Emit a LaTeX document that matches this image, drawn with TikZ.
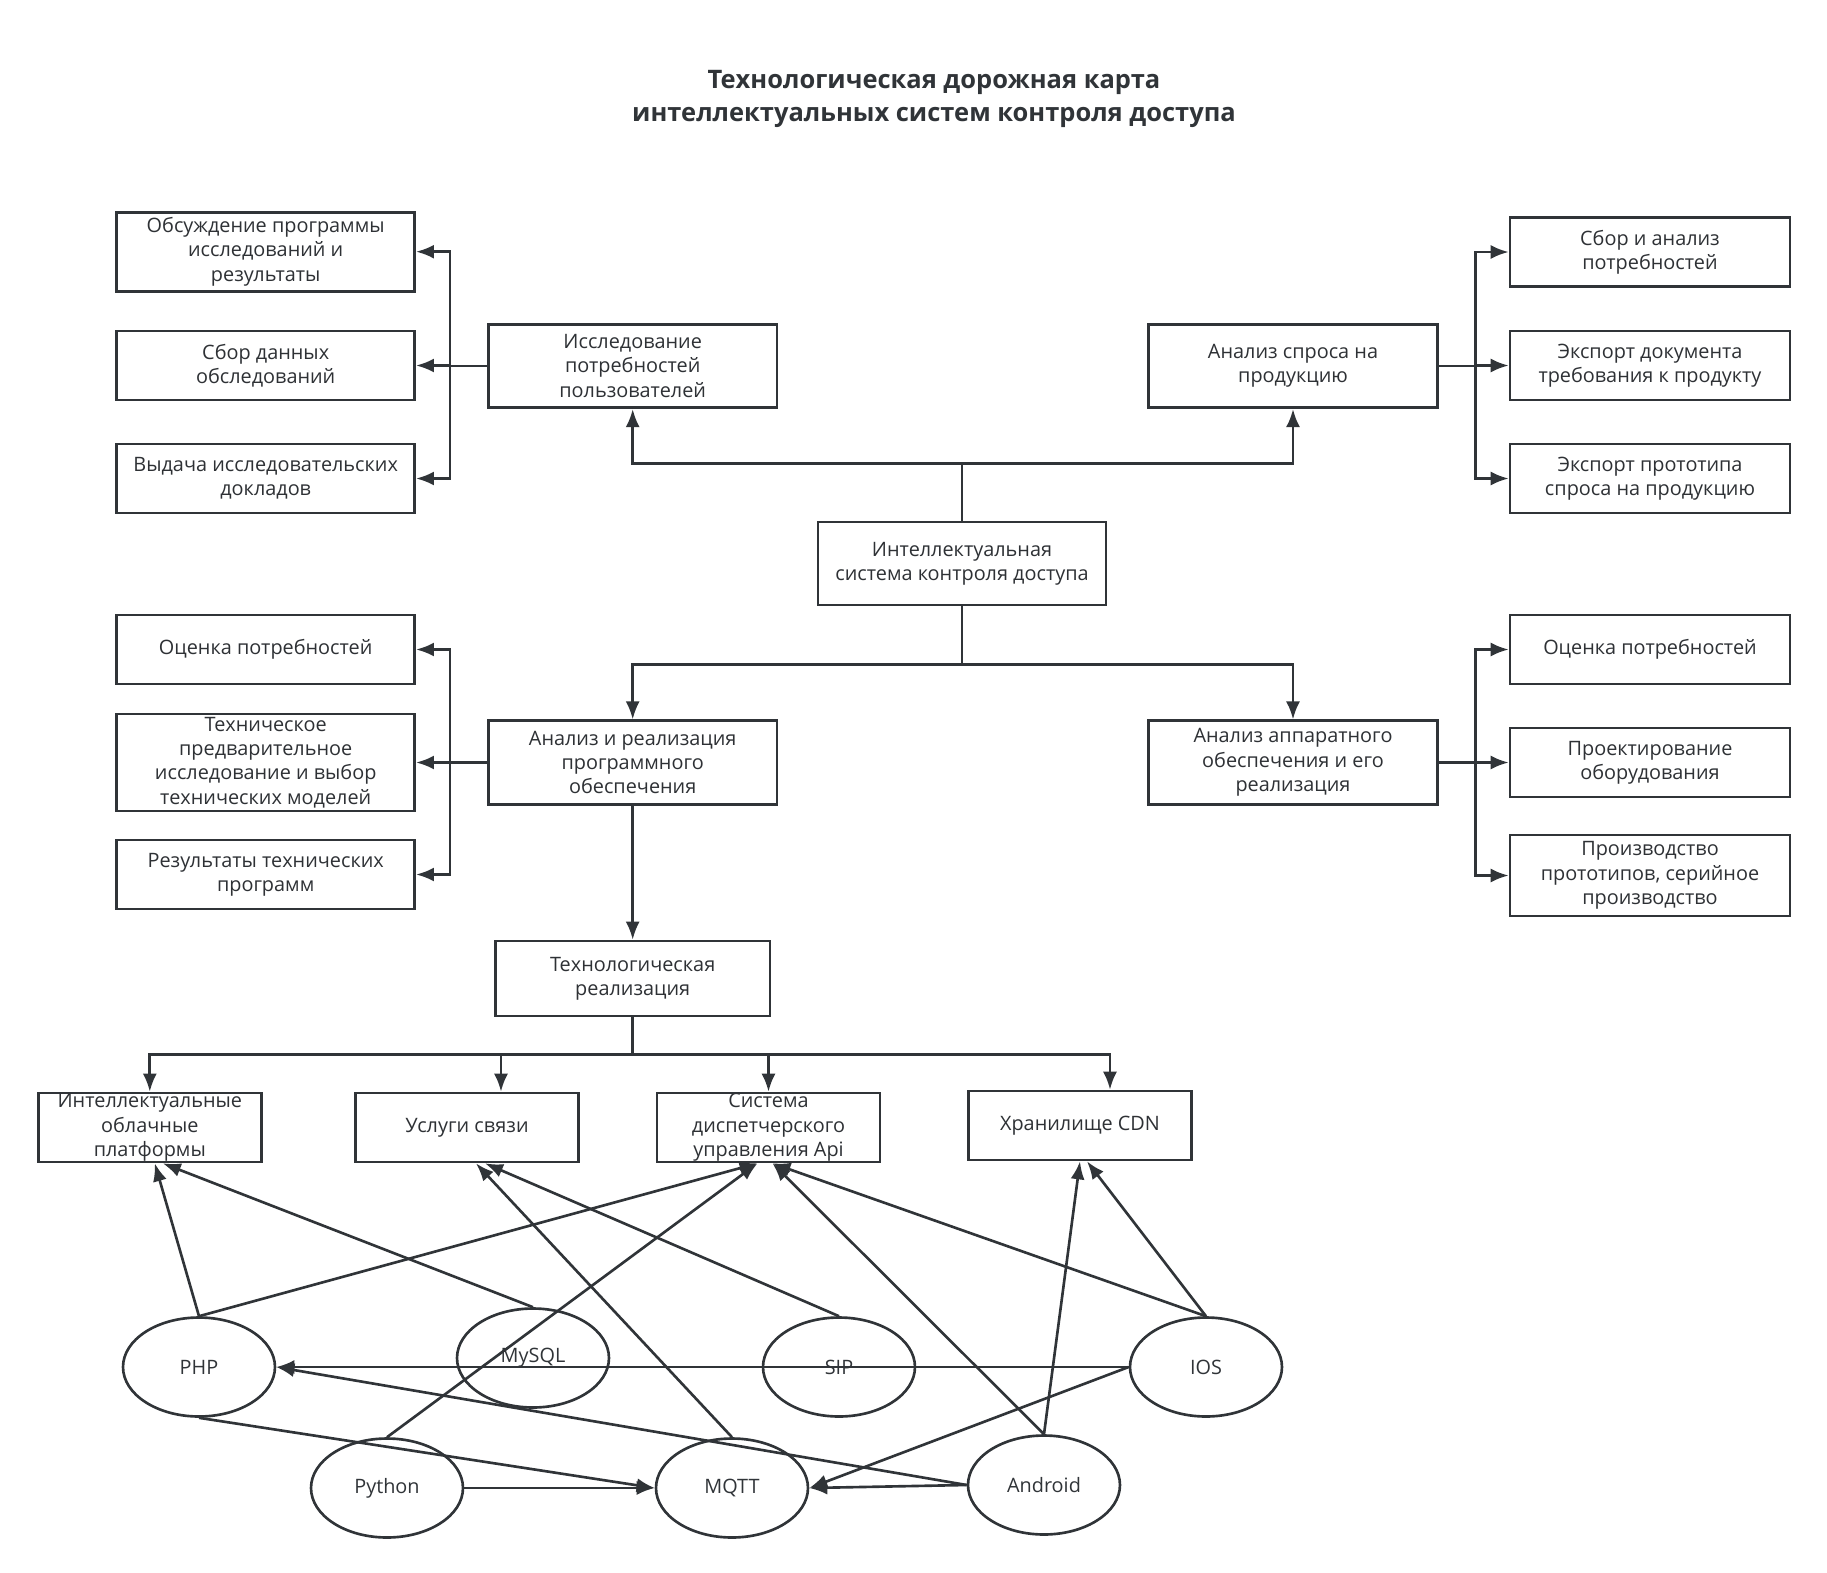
\documentclass[tikz,border=0pt]{standalone}
\usepackage{fontspec}
\setmainfont{Open Sans}
\usepackage{tikz}
\usetikzlibrary{
  shapes.geometric, arrows.meta, positioning, calc
}
\definecolor{ink}{HTML}{303438}
\tikzset{
  mapbox/.style={
    draw=ink, line width=1.5pt, align=center, text=ink!95!black, inner sep=0pt,
    font=\fontsize{11.3}{13.9}\selectfont, fill=white
  },
  branchbox/.style={
    mapbox, minimum width=5.78cm, minimum height=1.67cm
  },
  leafbox/.style={
    mapbox, minimum width=5.96cm, minimum height=1.38cm
  },
  rleafbox/.style={
    mapbox, minimum width=5.6cm, minimum height=1.38cm
  },
  servicebox/.style={
    mapbox, minimum width=4.46cm, minimum height=1.38cm
  },
  toolnode/.style={
    ellipse, draw=ink, line width=1.5pt, text=ink, inner sep=0pt,
    minimum width=3.04cm, minimum height=1.98cm,
    font=\fontsize{11.3}{13.9}\selectfont
  },
  maparrow/.style={
    -{Latex[length=3.6mm, width=2.8mm]}, line width=1.5pt, draw=ink
  },
  maptitle/.style={
    align=center, text=ink, font=\bfseries\fontsize{14.5}{18.7}\selectfont
  },
}

\begin{document}
\begin{tikzpicture}[x=0.02cm, y=-0.02cm]
  \useasboundingbox (0,0) rectangle (1827,1573);

  % --- Title ---
  \node[maptitle] (title) at (934, 99)
    {Технологическая дорожная карта\\интеллектуальных систем контроля доступа};

  % --- Upper level: research and demand ---
  \node[leafbox, minimum height=1.58cm] (obs) at (265.7, 251.7) {Обсуждение программы\\исследований и\\результаты};
  \node[leafbox] (sbor) at (265.7, 365.5) {Сбор данных\\обследований};
  \node[leafbox] (vyd) at (265.7, 478.5) {Выдача исследовательских\\докладов};

  \node[branchbox] (issl) at (632.7, 366) {Исследование\\потребностей\\пользователей};
  \node[branchbox] (spros) at (1293, 366) {Анализ спроса на\\продукцию};

  \node[rleafbox] (rsbor) at (1650, 252) {Сбор и анализ\\потребностей};
  \node[rleafbox] (rdoc) at (1650, 365.5) {Экспорт документа\\требования к продукту};
  \node[rleafbox] (rproto) at (1650, 478.5) {Экспорт прототипа\\спроса на продукцию};

  % --- Core ---
  \node[mapbox, minimum width=5.76cm, minimum height=1.66cm] (core) at (962, 563.5)
    {Интеллектуальная\\система контроля доступа};

  % --- Middle level: software and hardware ---
  \node[leafbox] (lneed) at (265.7, 649.5) {Оценка потребностей};
  \node[leafbox, minimum height=1.94cm] (ltech) at (265.7, 762.5)
    {Техническое\\предварительное\\исследование и выбор\\технических моделей};
  \node[leafbox] (lres) at (265.7, 874.5) {Результаты технических\\программ};

  \node[branchbox] (soft) at (632.7, 762.5) {Анализ и реализация\\программного\\обеспечения};
  \node[branchbox] (hard) at (1293, 762.5) {Анализ аппаратного\\обеспечения и его\\реализация};

  \node[rleafbox] (rneed) at (1650, 649.5) {Оценка потребностей};
  \node[rleafbox] (rdesign) at (1650, 762.5) {Проектирование\\оборудования};
  \node[rleafbox, minimum height=1.62cm] (rprod) at (1650, 875.5)
    {Производство\\прототипов, серийное\\производство};

  % --- Technology level ---
  \node[mapbox, minimum width=5.5cm, minimum height=1.5cm] (tech) at (632.7, 978.5)
    {Технологическая\\реализация};

  \node[servicebox] (cloud) at (149.8, 1127.5) {Интеллектуальные\\облачные\\платформы};
  \node[servicebox] (svyaz) at (467, 1127.5) {Услуги связи};
  \node[servicebox] (api) at (768.5, 1127.5) {Система\\диспетчерского\\управления Api};
  \node[servicebox] (cdn) at (1080, 1125.5) {Хранилище CDN};

  % --- Tools ---
  \node[toolnode] (php) at (199, 1367) {PHP};
  \node[toolnode] (mysql) at (533, 1358) {MySQL};
  \node[toolnode] (sip) at (839, 1367) {SIP};
  \node[toolnode] (ios) at (1206, 1367) {IOS};
  \node[toolnode] (python) at (387, 1488) {Python};
  \node[toolnode] (mqtt) at (732, 1488) {MQTT};
  \node[toolnode] (android) at (1044, 1485) {Android};

  % --- Arrows: core ---
  \draw[maparrow] (core.north) -- ++(0,-57) -| (issl.south);
  \draw[maparrow] (core.north) -- ++(0,-57) -| (spros.south);
  \draw[maparrow] (core.south) -- ++(0,58) -| (soft.north);
  \draw[maparrow] (core.south) -- ++(0,58) -| (hard.north);

  % --- Arrows: side buses ---
  \foreach \leaf in {obs, sbor, vyd}
    \draw[maparrow] (issl.west) -- ++(-37,0) |- (\leaf.east);
  \foreach \leaf in {rsbor, rdoc, rproto}
    \draw[maparrow] (spros.east) -- ++(37,0) |- (\leaf.west);
  \foreach \leaf in {lneed, ltech, lres}
    \draw[maparrow] (soft.west) -- ++(-37,0) |- (\leaf.east);
  \foreach \leaf in {rneed, rdesign, rprod}
    \draw[maparrow] (hard.east) -- ++(37,0) |- (\leaf.west);

  % --- Arrows: technology ---
  \draw[maparrow] (soft.south) -- (tech.north);
  \draw[maparrow] (tech.south) -- ++(0,37) -| (cloud.north);
  \draw[maparrow] (tech.south) -- ++(0,37) -| ([xshift=0.68cm]svyaz.north);
  \draw[maparrow] (tech.south) -- ++(0,37) -| (api.north);
  \draw[maparrow] (tech.south) -- ++(0,37) -| ([xshift=0.6cm]cdn.north);

  % --- Arrows: tools ---
  \draw[maparrow] (php.north) -- ([xshift=0.1cm]cloud.south);
  \draw[maparrow] (php.north) -- ([xshift=-0.22cm]api.south);
  \draw[maparrow] (mysql.north) -- ([xshift=0.26cm]cloud.south);
  \draw[maparrow] (mqtt.north) -- ([xshift=0.18cm]svyaz.south);
  \draw[maparrow] (sip.north) -- ([xshift=0.36cm]svyaz.south);
  \draw[maparrow] (python.north) -- ([xshift=-0.22cm]api.south);
  \draw[maparrow] (android.north) -- ([xshift=0.08cm]api.south);
  \draw[maparrow] (ios.north) -- ([xshift=0.08cm]api.south);
  \draw[maparrow] (android.north) -- (cdn.south);
  \draw[maparrow] (ios.north) -- ([xshift=0.14cm]cdn.south);
  \draw[maparrow] (ios.west) -- (php.east);
  \draw[maparrow] (ios.west) -- (mqtt.east);
  \draw[maparrow] (android.west) -- (php.east);
  \draw[maparrow] (android.west) -- (mqtt.east);
  \draw[maparrow] (php.south) -- (mqtt.west);
  \draw[maparrow] (python.east) -- (mqtt.west);

\end{tikzpicture}
\end{document}
